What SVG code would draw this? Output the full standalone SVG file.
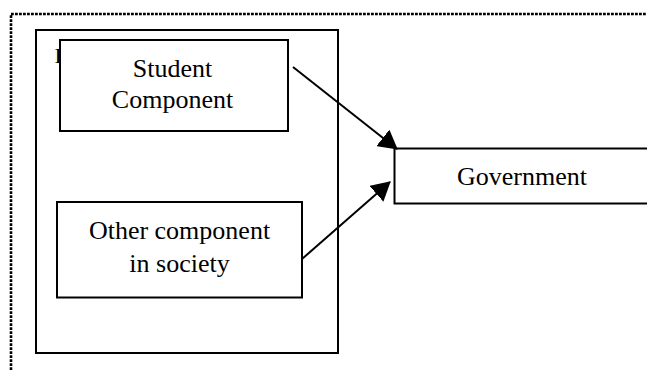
<svg xmlns="http://www.w3.org/2000/svg" width="647" height="370" viewBox="0 0 647 370">
<style>
.box{fill:#fff;stroke:#000;stroke-width:2}
.lbl{font-family:"Liberation Serif","Times New Roman",serif;font-size:26px;fill:#000;text-anchor:middle}
.conn{stroke:#000;stroke-width:2;fill:none}
</style>
<defs>
<marker id="ah" markerUnits="userSpaceOnUse" markerWidth="19" markerHeight="21" refX="18" refY="10.5" orient="auto">
<path d="M0,0 L19,10.5 L0,21 z" fill="#000"/>
</marker>
</defs>
<rect width="647" height="370" fill="#fff"/>
<path d="M11,370 V14 H647" fill="none" stroke="#000" stroke-width="2.6" stroke-dasharray="2.8,1.2"/>
<g id="outer">
<rect class="box" x="36" y="30" width="302" height="323"/>
<text x="54.5" y="63" font-family="Liberation Serif, serif" font-size="22">I</text>
</g>
<g id="student">
<rect class="box" x="60" y="40" width="228" height="91"/>
<text class="lbl" x="172.5" y="77">Student</text>
<text class="lbl" x="172.5" y="108">Component</text>
</g>
<g id="other">
<rect class="box" x="57" y="202" width="245" height="95.5"/>
<text class="lbl" x="179.5" y="239">Other component</text>
<text class="lbl" x="179.5" y="271.5">in society</text>
</g>
<g id="government">
<rect class="box" x="394.5" y="148.5" width="260" height="55"/>
<text class="lbl" x="522" y="185">Government</text>
</g>
<g id="connectors">
<line class="conn" x1="293" y1="67" x2="397" y2="149" marker-end="url(#ah)"/>
<line class="conn" x1="302" y1="259" x2="390" y2="182" marker-end="url(#ah)"/>
</g>
</svg>
